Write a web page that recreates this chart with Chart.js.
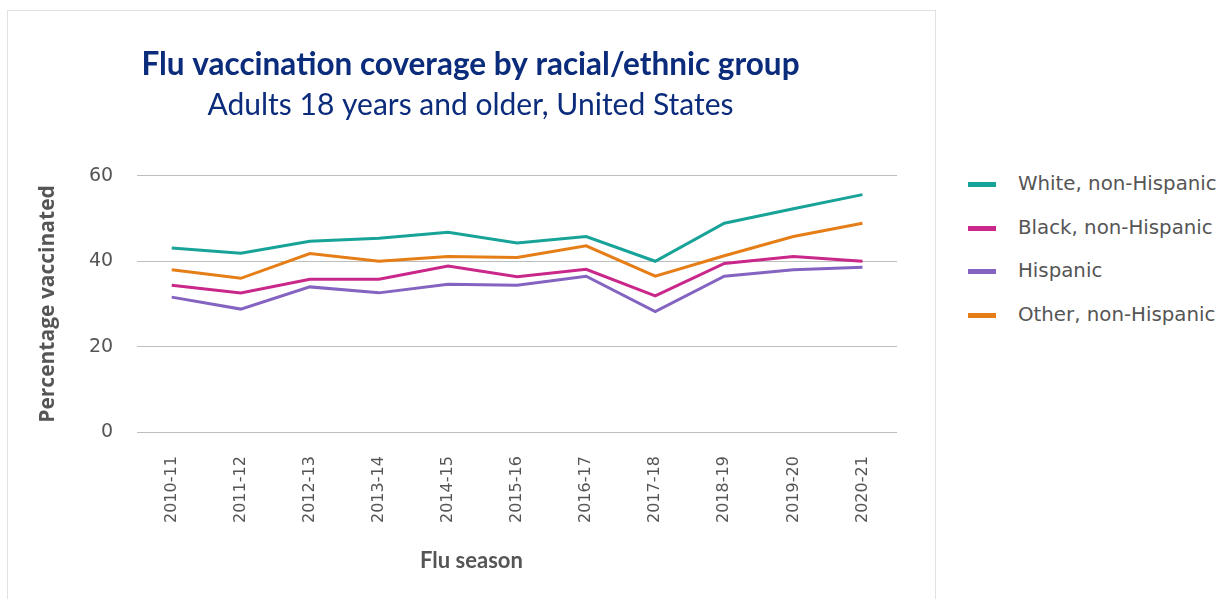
<!DOCTYPE html>
<html>
<head>
<meta charset="utf-8">
<script src="https://cdn.jsdelivr.net/npm/chart.js@4.4.1/dist/chart.umd.min.js"></script>
<style>
  body { margin: 0; background: #fff; width: 1225px; height: 599px; overflow: hidden; position: relative; }
  .card { position: absolute; left: 7px; top: 10px; width: 929px; height: 600px; border: 1px solid #e2e2e2; border-bottom: none; box-sizing: border-box; }
  #flu { position: absolute; left: 7px; top: 10px; }
  #xtitle { position: absolute; left: 7px; width: 929px; top: 546px; text-align: center; font-family: Lato, sans-serif; font-weight: bold; font-size: 22px; color: #555; }
  #legend { position: absolute; left: 968px; top: 170px; font-family: "DejaVu Sans", sans-serif; font-size: 19.8px; color: #555; }
  #legend .item { position: relative; height: 43.5px; }
  #legend .swatch { position: absolute; left: 0; top: 12px; width: 28px; height: 5px; }
  #legend .label { position: absolute; left: 50px; top: 0; line-height: 28px; white-space: nowrap; }
</style>
</head>
<body>
<div class="card"></div>
<canvas id="flu" width="927" height="589"></canvas>
<div id="xtitle">Flu season</div>
<div id="legend"></div>
<script>
// data
var seasons = ["2010-11", "2011-12", "2012-13", "2013-14", "2014-15", "2015-16", "2016-17", "2017-18", "2018-19", "2019-20", "2020-21"];
var whiteNH = [43.1, 41.9, 44.7, 45.4, 46.8, 44.3, 45.8, 40.0, 48.9, 52.3, 55.6];
var blackNH = [34.4, 32.6, 35.8, 35.8, 38.9, 36.4, 38.1, 31.9, 39.5, 41.1, 40.0];
var hispanic = [31.6, 28.8, 34.0, 32.6, 34.6, 34.4, 36.5, 28.2, 36.5, 38.0, 38.6];
var otherNH = [38.0, 36.0, 41.8, 40.0, 41.1, 40.9, 43.6, 36.5, 41.3, 45.8, 48.9];
var yTicks = [0, 20, 40, 60];

var seriesNames = ["White, non-Hispanic", "Black, non-Hispanic", "Hispanic", "Other, non-Hispanic"];
var seriesColors = ["#17a398", "#c9278a", "#8563c1", "#e67e17"];
var seriesData = [whiteNH, blackNH, hispanic, otherNH];

var grayText = "#555555";
var tickFont = "'DejaVu Sans', sans-serif";

var datasets = seriesData.map(function (d, i) {
    return {
        label: seriesNames[i],
        data: d,
        borderColor: seriesColors[i],
        backgroundColor: seriesColors[i],
        borderWidth: 3,
        pointRadius: 0,
        tension: 0,
        fill: false
    };
});

// html legend
var legendDiv = document.getElementById("legend");
seriesNames.forEach(function (name, i) {
    var item = document.createElement("div");
    item.className = "item";
    item.innerHTML = '<span class="swatch" style="background:' + seriesColors[i] + '"></span><span class="label">' + name + '</span>';
    legendDiv.appendChild(item);
});

var ctx = document.getElementById("flu").getContext("2d");
var fluChart = new Chart(ctx, {
    type: "line",
    data: { labels: seasons, datasets: datasets },
    options: {
        responsive: false,
        animation: false,
        layout: { autoPadding: false, padding: { left: 37, right: 37, top: 0, bottom: 76 } },
        plugins: {
            legend: { display: false },
            tooltip: { enabled: false },
            title: {
                display: true,
                text: "Flu vaccination coverage by racial/ethnic group",
                color: "#0b2b7b",
                font: { family: "Lato, sans-serif", size: 31.5, weight: "bold" },
                padding: { top: 36, bottom: 4 }
            },
            subtitle: {
                display: true,
                text: "Adults 18 years and older, United States",
                color: "#0b2b7b",
                font: { family: "Lato, sans-serif", size: 30, weight: "normal" },
                padding: { top: 0, bottom: 52 }
            }
        },
        scales: {
            x: {
                offset: true,
                grid: { display: true, drawOnChartArea: false, drawTicks: true, tickLength: 24, tickColor: "rgba(0,0,0,0)" },
                border: { display: false },
                ticks: {
                    color: grayText,
                    font: { family: tickFont, size: 16 },
                    minRotation: 90,
                    maxRotation: 90,
                    padding: 0,
                    autoSkip: false
                }
            },
            y: {
                min: 0,
                max: 60,
                afterBuildTicks: function (axis) {
                    axis.ticks = yTicks.map(function (v) { return { value: v }; });
                },
                grid: { color: "#bdbdbd", lineWidth: 1, drawTicks: true, tickLength: 24, tickColor: "rgba(0,0,0,0)" },
                border: { display: false },
                ticks: {
                    color: grayText,
                    font: { family: tickFont, size: 19 },
                    padding: 0
                },
                title: {
                    display: true,
                    text: "Percentage vaccinated",
                    color: grayText,
                    font: { family: "'Open Sans', sans-serif", size: 21, weight: "bold" },
                    padding: { top: -8.6, bottom: 28.4 }
                }
            }
        }
    }
});
</script>
</body>
</html>
